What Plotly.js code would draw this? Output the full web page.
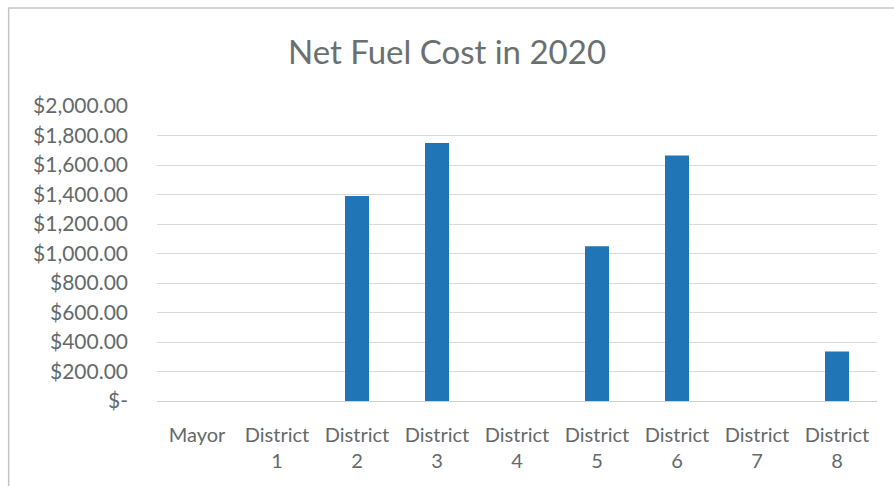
<!DOCTYPE html>
<html><head><meta charset="utf-8">
<script src="https://cdn.plot.ly/plotly-3.0.1.min.js"></script>
<style>html,body{margin:0;padding:0;background:#fff;}#chart{width:894px;height:486px;}</style>
</head><body><div id="chart"></div>
<script>
const categories = ["Mayor","District 1","District 2","District 3","District 4","District 5","District 6","District 7","District 8"];
const tickLabels = ["Mayor","District<br>1","District<br>2","District<br>3","District<br>4","District<br>5","District<br>6","District<br>7","District<br>8"];
const netFuelCost = [0, 0, 1390, 1750, 0, 1050, 1665, 0, 335];
const yTickVals = [0,200,400,600,800,1000,1200,1400,1600,1800,2000];
const yTickText = ["$-","$200.00","$400.00","$600.00","$800.00","$1,000.00","$1,200.00","$1,400.00","$1,600.00","$1,800.00","$2,000.00"];

const font = "Lato, 'Open Sans', sans-serif";
Plotly.newPlot("chart", [{
  type: "bar",
  x: categories,
  y: netFuelCost,
  marker: {color: "#1f75b5"},
  width: 0.3
}], {
  width: 894, height: 486,
  margin: {l: 157, r: 17, t: 106, b: 85},
  paper_bgcolor: "#fff", plot_bgcolor: "#fff",
  title: {text: "Net Fuel Cost in 2020", font: {family: font, size: 33, color: "#6a7070"}, x: 0.5, xanchor: "center", y: 0.892, yanchor: "middle"},
  xaxis: {
    tickvals: categories, ticktext: tickLabels,
    tickfont: {family: font, size: 20, color: "#636a6a"},
    showgrid: false, zeroline: false, showline: false, ticks: "",
    ticklabelstandoff: 20,
    fixedrange: true
  },
  yaxis: {
    range: [0, 2000], tickvals: yTickVals, ticktext: yTickText,
    tickfont: {family: font, size: 21, color: "#636a6a"},
    gridcolor: "#d9d9d9", gridwidth: 1, zeroline: true, zerolinecolor: "#d0d0d0",
    showline: false, ticks: "", ticklabelstandoff: 28,
    fixedrange: true
  },
  shapes: [{type: "rect", xref: "paper", yref: "paper", x0: -0.206, x1: 1.1, y0: -0.4, y1: 1.332, line: {color: "#c4c4c4", width: 1.5}}],
  showlegend: false
}, {displayModeBar: false, staticPlot: true});
</script></body></html>
